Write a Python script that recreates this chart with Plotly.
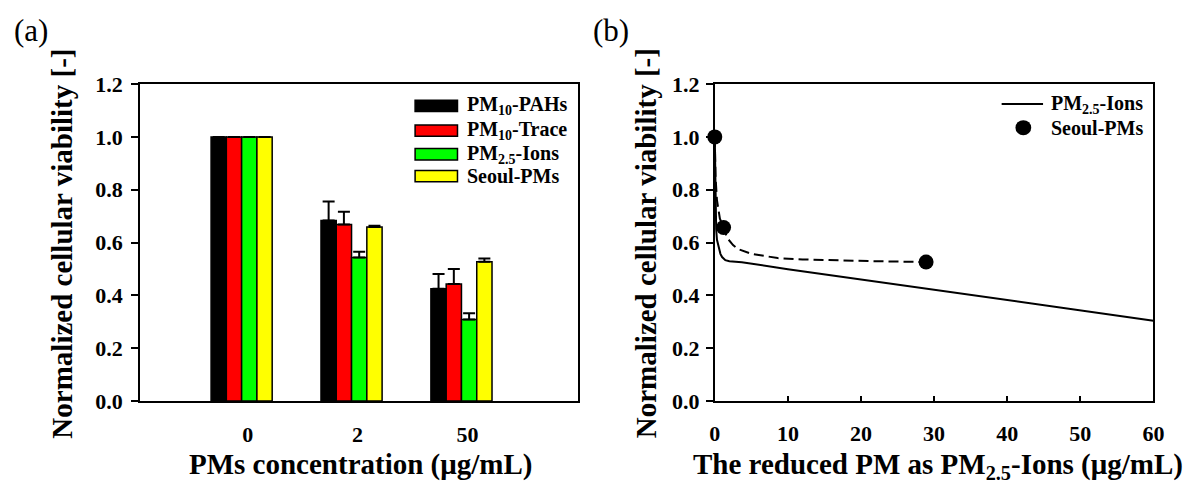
import plotly.graph_objects as go

# ---------------- data: panel (a) ----------------
conc_labels = ["0", "2", "50"]
series_names = ["PM<sub>10</sub>-PAHs", "PM<sub>10</sub>-Trace",
                "PM<sub>2.5</sub>-Ions", "Seoul-PMs"]
pahs = [1.0, 0.683, 0.425]
trace_el = [1.0, 0.668, 0.443]
ions = [1.0, 0.543, 0.308]
seoul = [1.0, 0.659, 0.527]
pahs_err = [0.0, 0.072, 0.056]
trace_err = [0.0, 0.048, 0.057]
ions_err = [0.0, 0.022, 0.024]
seoul_err = [0.0, 0.004, 0.012]
bar_colors = ["#000000", "#ff0000", "#00ff00", "#ffff00"]

# ---------------- data: panel (b) ----------------
ions_x = [0, 0.05, 0.1, 0.19, 0.3, 0.54, 0.77, 1.0, 1.44, 2.0, 3.0, 3.7,
          10, 20, 30, 40, 50, 60]
ions_y = [1.0, 0.88, 0.78, 0.65, 0.61, 0.58, 0.557, 0.545, 0.533, 0.529,
          0.527, 0.525, 0.499, 0.460, 0.421, 0.382, 0.343, 0.304]
fit_x = [0, 0.1, 0.3, 0.7, 1.2, 1.7, 2.5, 3.2, 5.0, 8.6, 12, 15.4, 22, 28.9]
fit_y = [1.0, 0.85, 0.76, 0.69, 0.657, 0.617, 0.59, 0.575, 0.557, 0.541,
         0.536, 0.533, 0.529, 0.526]
seoul_x = [0, 1.2, 28.9]
seoul_y = [1.0, 0.657, 0.526]

W, H = 1196, 486
FONT = "Liberation Serif"


def px(x):
    return x / W


def py(y):
    return 1 - y / H


fig = go.Figure()

series = [pahs, trace_el, ions, seoul]
errs = [pahs_err, trace_err, ions_err, seoul_err]
for name, vals, err, col in zip(series_names, series, errs, bar_colors):
    fig.add_trace(go.Bar(
        x=conc_labels, y=vals, name=name, marker_color=col,
        marker_line=dict(color="black", width=1.5),
        error_y=dict(type="data", symmetric=False, array=err,
                     arrayminus=[0] * len(err), color="black",
                     thickness=2, width=6),
        xaxis="x", yaxis="y", showlegend=False))

fig.add_trace(go.Scatter(x=ions_x, y=ions_y, mode="lines",
                         line=dict(color="black", width=2),
                         xaxis="x2", yaxis="y2", showlegend=False,
                         cliponaxis=False))
fig.add_trace(go.Scatter(x=fit_x, y=fit_y, mode="lines",
                         line=dict(color="black", width=2, dash="10px,5px"),
                         xaxis="x2", yaxis="y2", showlegend=False,
                         cliponaxis=False))
fig.add_trace(go.Scatter(x=seoul_x, y=seoul_y, mode="markers",
                         marker=dict(color="black", size=15),
                         xaxis="x2", yaxis="y2", showlegend=False,
                         cliponaxis=False))

tickfont = dict(family=FONT, size=22, color="black", weight="bold")
axis_common = dict(showline=True, linecolor="black", linewidth=2,
                   mirror=True, showgrid=False, zeroline=False,
                   tickfont=tickfont)

ydom = [py(410), py(76)]
fig.update_layout(
    width=W, height=H,
    margin=dict(l=0, r=0, t=0, b=0),
    paper_bgcolor="white", plot_bgcolor="white",
    barmode="group", bargap=0.444, bargroupgap=0,
    xaxis=dict(domain=[px(136), px(580)], type="category",
               range=[-0.924, 3.058], ticks="", ticklabelshift=6,
               ticklabelstandoff=13, anchor="y", **axis_common),
    yaxis=dict(domain=ydom, range=[0, 1.2], tickvals=[0, 0.2, 0.4, 0.6, 0.8, 1.0, 1.2],
               tickformat=".1f", ticks="outside", ticklen=7, tickwidth=2,
               tickcolor="black", ticklabelstandoff=4, anchor="x", **axis_common),
    xaxis2=dict(domain=[px(719), px(1164)], range=[0, 60], dtick=10,
                ticks="inside", ticklen=5, tickwidth=2, tickcolor="black",
                ticklabelstandoff=12, anchor="y2", **axis_common),
    yaxis2=dict(domain=ydom, range=[0, 1.2], tickvals=[0, 0.2, 0.4, 0.6, 0.8, 1.0, 1.2],
                tickformat=".1f", ticks="outside", ticklen=7, tickwidth=2,
                tickcolor="black", ticklabelstandoff=2, anchor="x2", **axis_common),
)

title_font = dict(family=FONT, size=29, color="black", weight="bold")
leg_font = dict(family=FONT, size=20, color="black", weight="bold")
ann = []
ann.append(dict(text="(a)", x=px(25), y=py(20), font=dict(family=FONT, size=31, color="black")))
ann.append(dict(text="(b)", x=px(614), y=py(20), font=dict(family=FONT, size=31, color="black")))
ann.append(dict(text="Normalized cellular viability [-]", x=px(57), y=py(244),
                textangle=-90, font=title_font))
ann.append(dict(text="Normalized cellular viability [-]", x=px(650), y=py(244),
                textangle=-90, font=title_font))
ann.append(dict(text="PMs concentration (\u03bcg/mL)", x=px(360), y=py(477), font=title_font))
ann.append(dict(text="The reduced PM as PM<sub>2.5</sub>-Ions (\u03bcg/mL)", x=px(945), y=py(479),
                font=title_font))

# legend (a)
leg_y = [99, 125, 150, 173]
shapes = []
for name, col, yy in zip(series_names, bar_colors, leg_y):
    shapes.append(dict(type="rect", xref="paper", yref="paper",
                       x0=px(415), x1=px(458), y0=py(yy - 6), y1=py(yy + 6),
                       fillcolor=col, line=dict(color="black", width=1.5)))
    ann.append(dict(text=name, x=px(466), y=py(yy), xanchor="left", font=leg_font))

# legend (b)
shapes.append(dict(type="line", xref="paper", yref="paper",
                   x0=px(1010), x1=px(1052), y0=py(97), y1=py(97),
                   line=dict(color="black", width=2)))
shapes.append(dict(type="circle", xref="paper", yref="paper",
                   x0=px(1024), x1=px(1040), y0=py(114), y1=py(130),
                   fillcolor="black", line=dict(color="black", width=0)))
ann.append(dict(text="PM<sub>2.5</sub>-Ions", x=px(1058), y=py(97), xanchor="left", font=leg_font))
ann.append(dict(text="Seoul-PMs", x=px(1058), y=py(122), xanchor="left", font=leg_font))

for a in ann:
    a.setdefault("xref", "paper")
    a.setdefault("yref", "paper")
    a.setdefault("showarrow", False)
    a.setdefault("xanchor", "center")
    a.setdefault("yanchor", "middle")

fig.update_layout(annotations=ann, shapes=shapes)
fig.write_html("out.html")
